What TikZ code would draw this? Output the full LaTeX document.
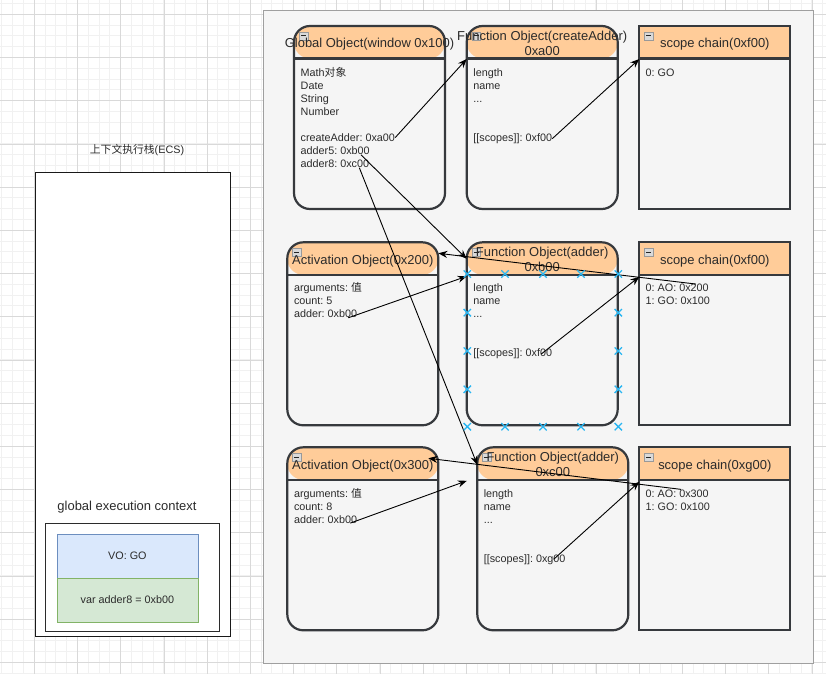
\documentclass[tikz,border=0pt]{standalone}
\usepackage{fontspec}
\setmainfont{Liberation Sans}
\newfontfamily\cjk{Noto Sans CJK SC}
\usetikzlibrary{arrows.meta,positioning,shapes.misc}
\usepackage{xcolor}
\definecolor{hdrorange}{HTML}{FFCC99}
\definecolor{objgray}{HTML}{F5F5F5}
\definecolor{objline}{HTML}{36393D}
\definecolor{txtgray}{HTML}{2B2B2B}
\definecolor{voblue}{HTML}{DAE8FC}
\definecolor{voline}{HTML}{6C8EBF}
\definecolor{vargreen}{HTML}{D5E8D4}
\definecolor{varline}{HTML}{82B366}
\definecolor{hitblue}{HTML}{29B6F2}
\definecolor{gridminor}{HTML}{F1F1F1}
\definecolor{gridmajor}{HTML}{D9D9D9}
\newcommand{\moredots}{...}
\frenchspacing

\begin{document}
\begin{tikzpicture}[x=1pt, y=-1pt,
    txt/.style={font=\fontsize{10.8}{13}\selectfont, text=txtgray, inner sep=0pt, anchor=base west},
    ttl/.style={font=\fontsize{12.96}{15.5}\selectfont, text=txtgray, align=center, inner sep=0pt},
    obj/.style={draw=objline, line width=2.2pt, fill=objgray, minimum width=151pt, minimum height=183pt,
        inner sep=0pt, outer sep=0pt, anchor=north west,
        path picture={\fill[hdrorange] (path picture bounding box.north west) rectangle ([yshift=-32.5pt]path picture bounding box.north east);}},
    robj/.style={obj, rounded corners=16pt},
    fold/.style={draw=gray!80, fill=gray!30, minimum size=8.5pt, inner sep=0pt,
        path picture={\draw[gray!30!black, line width=1pt] ([xshift=1.8pt]path picture bounding box.west) -- ([xshift=-1.8pt]path picture bounding box.east);}},
    ctxbox/.style={minimum width=141pt, minimum height=43.4pt, inner sep=0pt, font=\fontsize{10.8}{13}\selectfont, text=txtgray},
    ptr/.style={-{Stealth[length=9pt,width=7pt]}, black, line width=0.9pt},
    hit/.style={draw=hitblue, cross out, line width=1.3pt, minimum size=6pt, inner sep=0pt}]
    \useasboundingbox (0,0) rectangle (826,674);
    % grid
    \foreach \i in {0,...,76} \draw[gridminor, line width=1pt] (1.9+10.8*\i,0) -- (1.9+10.8*\i,674);
    \foreach \i in {0,...,62} \draw[gridminor, line width=1pt] (0,3.5+10.8*\i) -- (826,3.5+10.8*\i);
    \foreach \i in {0,...,18} \draw[gridmajor, line width=0.8pt] (34.3+43.2*\i,0) -- (34.3+43.2*\i,674);
    \foreach \i in {0,...,15} \draw[gridmajor, line width=0.8pt] (0,14.3+43.2*\i) -- (826,14.3+43.2*\i);

    % execution context stack
    \node[txt, anchor=center] (ecs-t) at (137,150) {{\cjk 上下文执行栈}(ECS)};
    \node[draw=black!90, fill=white, line width=1pt, minimum width=195pt, minimum height=464.5pt, outer sep=0pt, anchor=north west] (ecs) at (35.3,172.3) {};
    \node[ttl, anchor=center] (gec-t) at (127,507) {global execution context};
    \node[draw=txtgray, fill=white, line width=1.5pt, minimum width=173.6pt, minimum height=108.4pt, outer sep=0pt, anchor=north west] (gec) at (45.7,523.3) {};
    \node[ctxbox, draw=voline, fill=voblue, anchor=north west] (vo) at (56.7,534.3) {VO: GO};
    \node[ctxbox, draw=varline, fill=vargreen, below=0pt of vo] (var) {var adder8 = 0xb00};

    % heap
    \filldraw[fill=objgray, draw=gray!75] (262.7,10) rectangle (812.7,662.7);
    \node[robj] (glob) at (294,26) {};
    \node[robj] (fcreate) at (466.7,26) {};
    \node[obj] (scope1) at (639.3,26) {};
    \node[robj] (act1) at (287.3,242.3) {};
    \node[robj] (fadd1) at (466.7,242.3) {};
    \node[obj] (scope2) at (639.3,242.3) {};
    \node[robj] (act2) at (287.3,447.3) {};
    \node[robj] (fadd2) at (477.3,447.3) {};
    \node[obj] (scope3) at (639.3,447.3) {};
    \foreach \b in {glob,fcreate,scope1,act1,fadd1,scope2,act2,fadd2,scope3} {
        \draw[objline, line width=2.2pt] ([yshift=-32.5pt]\b.north west) -- ([yshift=-32.5pt]\b.north east);
        \node[fold] (\b-f) at ([xshift=9.5pt,yshift=-10pt]\b.north west) {};
    }
    \node[ttl] (glob-t) at ([yshift=-18.5pt]glob.north) {Global Object(window 0x100)};
    \node[ttl] (fcreate-t) at ([yshift=-17.3pt]fcreate.north) {Function Object(createAdder)\\0xa00};
    \node[ttl] (scope1-t) at ([yshift=-18.5pt]scope1.north) {scope chain(0xf00)};
    \node[ttl] (act1-t) at ([yshift=-18.5pt]act1.north) {Activation Object(0x200)};
    \node[ttl] (fadd1-t) at ([yshift=-17.3pt]fadd1.north) {Function Object(adder)\\0xb00};
    \node[ttl] (scope2-t) at ([yshift=-18.5pt]scope2.north) {scope chain(0xf00)};
    \node[ttl] (act2-t) at ([yshift=-18.5pt]act2.north) {Activation Object(0x300)};
    \node[ttl] (fadd2-t) at ([yshift=-17.3pt]fadd2.north) {Function Object(adder)\\0xc00};
    \node[ttl] (scope3-t) at ([yshift=-18.5pt]scope3.north) {scope chain(0xg00)};

    % object contents
    \foreach \t [count=\i] in {Math{\cjk 对象}, Date, String, Number, {}, createAdder: 0xa00, adder5: 0xb00, adder8: 0xc00}
        \node[txt] (glob-\i) at (300.5,63.5+13*\i) {\t};
    \foreach \t [count=\i] in {length, name, \moredots, {}, {}, [[scopes]]: 0xf00}
        \node[txt] (fcreate-\i) at (473.2,63.5+13*\i) {\t};
    \node[txt] (scope1-1) at (645.5,76.5) {0: GO};
    \foreach \t [count=\i] in {arguments: {\cjk 值}, count: 5, adder: 0xb00}
        \node[txt] (act1-\i) at (293.8,278.8+13*\i) {\t};
    \foreach \t [count=\i] in {length, name, \moredots, {}, {}, [[scopes]]: 0xf00}
        \node[txt] (fadd1-\i) at (473.2,278.8+13*\i) {\t};
    \foreach \t [count=\i] in {0: AO: 0x200, 1: GO: 0x100}
        \node[txt] (scope2-\i) at (645.5,278.8+13*\i) {\t};
    \foreach \t [count=\i] in {arguments: {\cjk 值}, count: 8, adder: 0xb00}
        \node[txt] (act2-\i) at (293.8,484.1+13*\i) {\t};
    \foreach \t [count=\i] in {length, name, \moredots, {}, {}, [[scopes]]: 0xg00}
        \node[txt] (fadd2-\i) at (483.6,484.1+13*\i) {\t};
    \foreach \t [count=\i] in {0: AO: 0x300, 1: GO: 0x100}
        \node[txt] (scope3-\i) at (645.5,484.1+13*\i) {\t};

    % pointers
    \draw[ptr] (glob-6.east) -- ([yshift=-33pt]fcreate.north west);
    \draw[ptr] (fcreate-6.east) -- ([yshift=-33pt]scope1.north west);
    \draw[ptr] ([xshift=-9pt]glob-7.south east) -- ([yshift=-16.5pt]fadd1.north west);
    \draw[ptr] ([xshift=-10pt]glob-8.south east) -- ([yshift=-17.5pt]fadd2.north west);
    \draw[ptr] ([xshift=-13pt]scope2-1.north east) -- ([yshift=-11pt]act1.north east);
    \draw[ptr] ([xshift=-9pt]act1-3.base east) -- ([yshift=-34pt]fadd1.north west);
    \draw[ptr] ([xshift=-11pt]fadd1-6.east) -- ([yshift=-34.5pt]scope2.north west);
    \draw[ptr] ([xshift=-28pt]scope3-1.north east) -- ([xshift=-10pt,yshift=-11pt]act2.north east);
    \draw[ptr] ([xshift=-7pt]act2-3.base east) -- ([xshift=-10.5pt,yshift=-33.5pt]fadd2.north west);
    \draw[ptr] ([xshift=-12pt]fadd2-6.east) -- ([yshift=-34.5pt]scope3.north west);

    % connection points of the selected object
    \foreach \p [count=\i] in {(467.3,274),(505,274),(543,274),(581,274),(618.3,274),
            (467.3,312.7),(467.3,351),(467.3,389.3),(467.3,426.7),
            (618.3,312.7),(618.3,351),(618.3,389.3),(618.3,426.7),
            (505,426.7),(543,426.7),(581,426.7)}
        \node[hit] (hit-\i) at \p {};
\end{tikzpicture}
\end{document}
